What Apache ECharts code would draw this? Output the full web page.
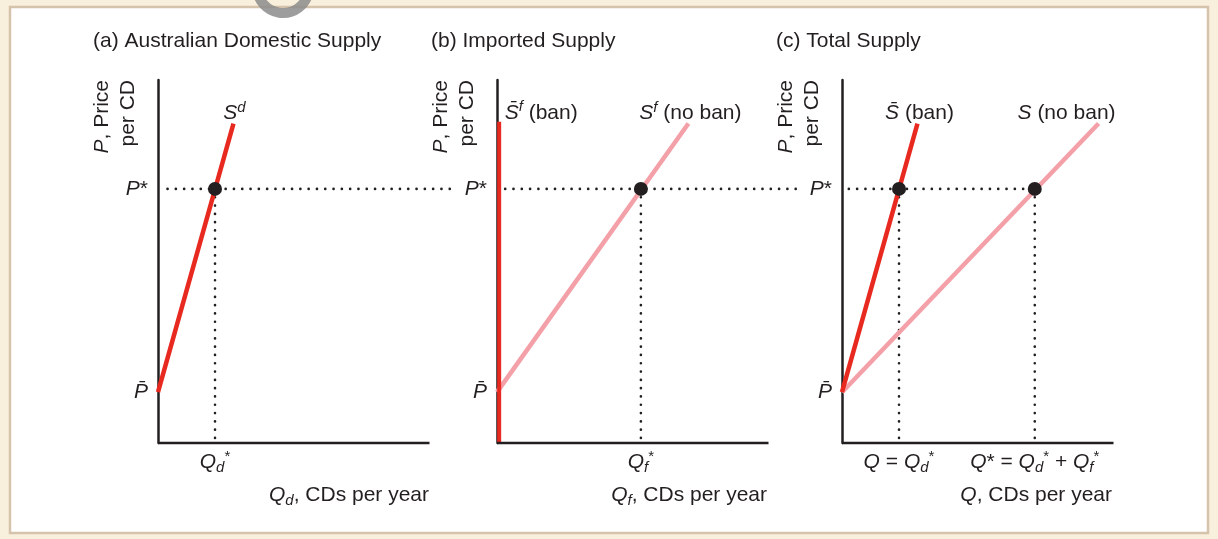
<!DOCTYPE html>
<html><head><meta charset="utf-8">
<script src="https://cdn.jsdelivr.net/npm/echarts@6/dist/echarts.min.js"></script>
<style>html,body{margin:0;padding:0;background:#f8efdc;} #c{width:1218px;height:539px;}</style>
</head><body><div id="c"></div>
<script>
// ---- data ----
const panelTitles = ['(a) Australian Domestic Supply', '(b) Imported Supply', '(c) Total Supply'];
const qAxisNames = ['{i|Q}{sub|d}{n|, CDs per year}', '{i|Q}{sub|f}{n|, CDs per year}', '{i|Q}{n|, CDs per year}'];
const pAxisName = '{i|P}{n|, Price}\n{n|per CD}';
const pBar = 1.4;
const pStar = 7;
const priceTicks = [1.4, 7];
const priceTickLabels = ['{i|P̄}', '{i|P}{n|*}'];
const qDomestic = 2.1;
const qForeign = 5.3;
const qTotal = 7.1;
const qTicksA = [2.1];
const qTickLabelsA = ['{i|Q}{sub|d}{sup|*}'];
const qTicksB = [5.3];
const qTickLabelsB = ['{i|Q}{sub|f}{sup|*}'];
const qTicksC = [2.1, 7.1];
const qTickLabelsC = ['{i|Q}{n| = }{i|Q}{sub|d}{sup|*}', '{i|Q}{n|* = }{i|Q}{sub|d}{sup|*}{n| + }{i|Q}{sub|f}{sup|*}'];
const qAxisEnd = 10;
const priceAxisEnd = 10;
const domesticSupply = [[0, 1.4], [2.78, 8.8]];
const importSupplyBan = [[0.08, 0], [0.08, 8.85]];
const importSupplyNoBan = [[0, 1.4], [7.05, 8.8]];
const totalSupplyBan = [[0, 1.4], [2.78, 8.8]];
const totalSupplyNoBan = [[0, 1.4], [9.45, 8.8]];
const curveLabels = ['{i|S}{supi|d}', '{i|S̄}{supi|f}{n| (ban)}', '{i|S}{supi|f}{n| (no ban)}', '{i|S̄}{n| (ban)}', '{i|S}{n| (no ban)}'];
const pDotLineA = [[0.35, 7], [10.9, 7]];
const pDotLineB = [[0.3, 7], [11.15, 7]];
const pDotLineC = [[0.25, 7], [7.1, 7]];

// ---- style / layout ----
const FONT = 'Liberation Sans, Arial, Helvetica, sans-serif';
const INK = '#231f20';
const RED = '#e8291f';
const PINK = '#f4a0a8';
const rich = {
  i: {fontFamily: FONT, fontStyle: 'italic', fontSize: 21, color: INK, lineHeight: 26},
  n: {fontFamily: FONT, fontSize: 21, color: INK, lineHeight: 26},
  sub: {fontFamily: FONT, fontStyle: 'italic', fontSize: 15, color: INK, lineHeight: 12, verticalAlign: 'bottom'},
  sup: {fontFamily: FONT, fontSize: 15, color: INK, lineHeight: 12, verticalAlign: 'top'},
  supi: {fontFamily: FONT, fontStyle: 'italic', fontSize: 15, color: INK, lineHeight: 12, verticalAlign: 'top'}
};
const PX_PER_Q = 27.15;
// plot areas include room on the right for the dotted price line that runs past each axis
const grids = [
  {left: 158, top: 80, width: 298, height: 363},
  {left: 497, top: 80, width: 304, height: 363},
  {left: 842, top: 80, width: 272, height: 363}
];
const qTickSets = [[qTicksA, qTickLabelsA], [qTicksB, qTickLabelsB], [qTicksC, qTickLabelsC]];

const xAxes = grids.map((g, k) => ({
  gridIndex: k, type: 'value', min: 0, max: g.width / PX_PER_Q,
  axisLine: {show: false},
  axisTick: {show: false}, splitLine: {show: false},
  axisLabel: {
    show: true, margin: 6, customValues: qTickSets[k][0], rich: rich,
    formatter: v => qTickSets[k][1][qTickSets[k][0].indexOf(v)] || ''
  }
}));
const yAxes = grids.map((g, k) => ({
  gridIndex: k, type: 'value', min: 0, max: priceAxisEnd,
  axisLine: {show: true, onZero: false, lineStyle: {color: INK, width: 2.5}},
  axisTick: {show: false}, splitLine: {show: false},
  axisLabel: {
    show: true, margin: 10, customValues: priceTicks, rich: rich,
    formatter: v => priceTickLabels[priceTicks.indexOf(v)] || ''
  }
}));

const dotted = (k, data) => ({
  type: 'line', xAxisIndex: k, yAxisIndex: k, data: data, symbol: 'none', clip: false, z: 1,
  silent: true, animation: false,
  lineStyle: {color: INK, width: 2.6, type: [0.1, 8.2], cap: 'round', opacity: 1}
});
const curve = (k, data, color, w) => ({
  type: 'line', xAxisIndex: k, yAxisIndex: k, data: data, symbol: 'none', clip: false, z: 3,
  animation: false, lineStyle: {color: color, width: w, cap: 'butt', opacity: 1}
});
const qAxisLine = k => ({
  type: 'line', xAxisIndex: k, yAxisIndex: k, data: [[0, 0], [qAxisEnd, 0]], symbol: 'none', clip: false, z: 4,
  silent: true, animation: false, lineStyle: {color: INK, width: 2.5, cap: 'butt', opacity: 1}
});
const dots = (k, data) => ({
  type: 'scatter', xAxisIndex: k, yAxisIndex: k, data: data, symbol: 'circle', symbolSize: 14,
  itemStyle: {color: INK, opacity: 1}, z: 5, animation: false
});
const label = (k, point, text, offset) => ({
  type: 'scatter', xAxisIndex: k, yAxisIndex: k, symbolSize: 0, z: 6, animation: false, silent: true,
  itemStyle: {opacity: 1},
  data: [{value: point, name: text}],
  label: {show: true, position: 'top', distance: 0, offset: offset, opacity: 1, formatter: p => p.name, rich: rich}
});

const series = [
  qAxisLine(0), qAxisLine(1), qAxisLine(2),
  // panel a
  dotted(0, pDotLineA),
  dotted(0, [[qDomestic, pStar], [qDomestic, 0]]),
  curve(0, domesticSupply, RED, 4.5),
  dots(0, [[qDomestic, pStar]]),
  label(0, domesticSupply[1], curveLabels[0], [1, 3]),
  // panel b
  dotted(1, pDotLineB),
  dotted(1, [[qForeign, pStar], [qForeign, 0]]),
  curve(1, importSupplyNoBan, PINK, 4.5),
  curve(1, importSupplyBan, RED, 4),
  dots(1, [[qForeign, pStar]]),
  label(1, importSupplyBan[1], curveLabels[1], [42, 4]),
  label(1, importSupplyNoBan[1], curveLabels[2], [2, 3]),
  // panel c
  dotted(2, pDotLineC),
  dotted(2, [[qDomestic, pStar], [qDomestic, 0]]),
  dotted(2, [[qTotal, pStar], [qTotal, 0]]),
  curve(2, totalSupplyNoBan, PINK, 4.5),
  curve(2, totalSupplyBan, RED, 4.5),
  dots(2, [[qDomestic, pStar], [qTotal, pStar]]),
  label(2, totalSupplyBan[1], curveLabels[3], [2, 3]),
  label(2, totalSupplyNoBan[1], curveLabels[4], [-32, 3])
];

const graphic = [
  {type: 'rect', z: -10, shape: {x: 10, y: 7, width: 1198, height: 526},
   style: {fill: '#ffffff', stroke: '#d6c3ac', lineWidth: 2.5}},
  {type: 'arc', z: 50, shape: {cx: 283, cy: -13, r: 26, startAngle: 0.15, endAngle: Math.PI - 0.05},
   style: {stroke: 'rgba(140,140,140,0.85)', lineWidth: 10, fill: null}}
];
const axisEndPx = [430, 768, 1113];
grids.forEach((g, k) => {
  graphic.push({type: 'text', x: [93, 431, 776][k], y: 41,
    style: {text: panelTitles[k], font: '21px ' + FONT, fill: INK, verticalAlign: 'middle', align: 'left'}});
  graphic.push({type: 'text', x: axisEndPx[k] - 1, y: 495,
    style: {text: qAxisNames[k], rich: rich, fill: INK, align: 'right', verticalAlign: 'middle'}});
  graphic.push({type: 'text', x: g.left - 43, y: 80, rotation: Math.PI / 2,
    style: {text: pAxisName, rich: rich, fill: INK, align: 'right', verticalAlign: 'middle', lineHeight: 27}});
});

const chart = echarts.init(document.getElementById('c'), null, {renderer: 'canvas'});
chart.setOption({
  backgroundColor: 'transparent',
  animation: false,
  grid: grids.map(g => Object.assign({outerBoundsMode: 'none', containLabel: false}, g)),
  xAxis: xAxes,
  yAxis: yAxes,
  series: series,
  graphic: graphic
});
</script></body></html>
